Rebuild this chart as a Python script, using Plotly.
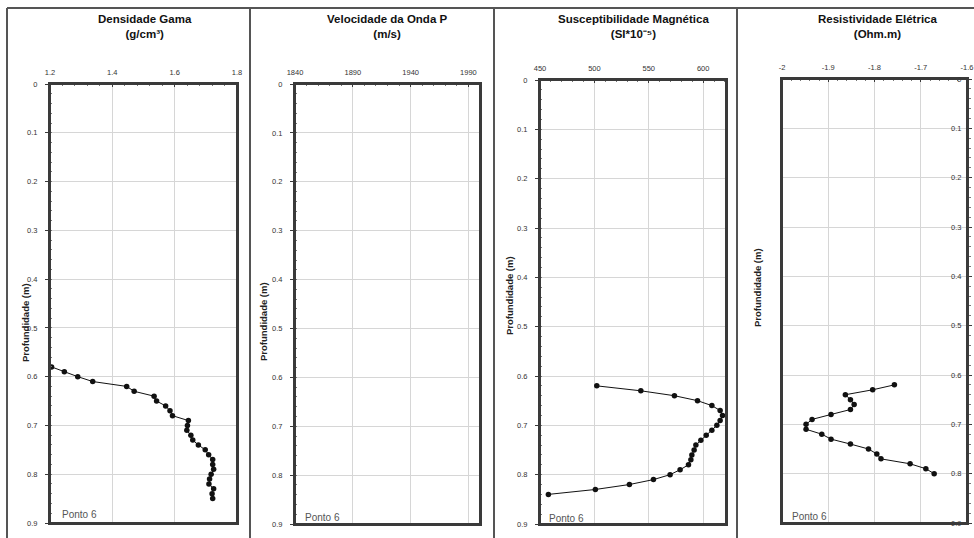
import plotly.graph_objects as go

W, H = 974, 538

# ---------------- data ----------------
dens_depth = [0.58, 0.59, 0.60, 0.61, 0.62, 0.63, 0.64, 0.65, 0.66, 0.67, 0.68, 0.69, 0.70, 0.71,
              0.72, 0.73, 0.74, 0.75, 0.76, 0.77, 0.78, 0.79, 0.80, 0.81, 0.82, 0.83, 0.84, 0.85]
dens_values = [1.205, 1.246, 1.289, 1.337, 1.446, 1.470, 1.534, 1.542, 1.571, 1.585, 1.593, 1.644,
               1.641, 1.639, 1.652, 1.658, 1.676, 1.698, 1.709, 1.722, 1.722, 1.725, 1.717, 1.712,
               1.710, 1.725, 1.720, 1.722]

vel_depth = []
vel_values = []

mag_depth = [0.62, 0.63, 0.64, 0.65, 0.66, 0.67, 0.68, 0.69, 0.70, 0.71, 0.72, 0.73, 0.74, 0.75,
             0.76, 0.77, 0.78, 0.79, 0.80, 0.81, 0.82, 0.83, 0.84]
mag_values = [502.2, 542.7, 573.6, 594.8, 608.0, 615.6, 617.8, 615.6, 612.6, 608.0, 602.8, 597.9,
              593.3, 591.7, 589.6, 588.7, 586.5, 578.8, 569.6, 554.3, 532.2, 500.9, 457.7]

res_depth = [0.62, 0.63, 0.64, 0.65, 0.66, 0.67, 0.68, 0.69, 0.70, 0.71, 0.72, 0.73, 0.74, 0.75,
             0.76, 0.77, 0.78, 0.79, 0.80]
res_values = [-1.757, -1.804, -1.863, -1.852, -1.844, -1.852, -1.894, -1.935, -1.948, -1.948,
              -1.914, -1.894, -1.852, -1.813, -1.795, -1.786, -1.723, -1.689, -1.671]

titles = ["<b>Densidade Gama</b><br><b>(g/cm³)</b>",
          "<b>Velocidade da Onda P</b><br><b>(m/s)</b>",
          "<b>Susceptibilidade Magnética</b><br><b>(SI*10⁻⁵)</b>",
          "<b>Resistividade Elétrica</b><br><b>(Ohm.m)</b>"]
y_title = "Profundidade (m)"
point_label = "Ponto 6"

dens_ticks = [1.2, 1.4, 1.6, 1.8]
vel_ticks = [1840, 1890, 1940, 1990]
mag_ticks = [450, 500, 550, 600]
res_ticks = [-2, -1.9, -1.8, -1.7, -1.6]
res_ticktext = ["-2", "-1.9", "-1.8", "-1.7", "-1.6"]
depth_ticks = [0, 0.1, 0.2, 0.3, 0.4, 0.5, 0.6, 0.7, 0.8, 0.9]

# ---------------- layout helpers (page pixel -> paper) ----------------
def px(p):
    return p / W

def py(p):
    return 1 - p / H

FONT = "Liberation Sans, Arial, sans-serif"
AXC = "#3a3a3a"
GRID = "#d6d6d6"

panels = [
    dict(x0=50, x1=237, y0=84, y1=523, xr=[1.2, 1.8], xt=dens_ticks, xtt=None, xminor=0.04,
         xd=dens_values, yd=dens_depth, ytx=25, yty=323, lbl=(79, 514), tt=(145, 27)),
    dict(x0=295, x1=480, y0=84, y1=524, xr=[1840, 2000], xt=vel_ticks, xtt=None, xminor=10,
         xd=vel_values, yd=vel_depth, ytx=263, yty=322, lbl=(322, 517), tt=(387, 27)),
    dict(x0=540, x1=726, y0=80, y1=524, xr=[450, 621], xt=mag_ticks, xtt=None, xminor=10,
         xd=mag_values, yd=mag_depth, ytx=509, yty=295, lbl=(566, 518), tt=(633, 27)),
    dict(x0=782, x1=967, y0=79, y1=523, xr=[-2, -1.6], xt=res_ticks, xtt=res_ticktext, xminor=0.02,
         xd=res_values, yd=res_depth, ytx=757, yty=288, lbl=(809, 516), tt=(877, 27)),
]

fig = go.Figure()
annotations = []
FR = "#555"
shapes = []
layout = dict(width=W, height=H, margin=dict(l=0, r=0, t=0, b=0, pad=0), autosize=False,
              paper_bgcolor="white", plot_bgcolor="white", showlegend=False,
              font=dict(family=FONT, color="#222"))

for i, p in enumerate(panels, start=1):
    sfx = "" if i == 1 else str(i)
    xa, ya = "x" + sfx, "y" + sfx
    fig.add_trace(go.Scatter(x=p["xd"], y=p["yd"], xaxis=xa, yaxis=ya, mode="lines+markers",
                             line=dict(color="#111", width=1),
                             marker=dict(color="#111", size=5.5, line=dict(color="#111", width=0)),
                             cliponaxis=False, hoverinfo="skip"))
    xaxis = dict(domain=[px(p["x0"]), px(p["x1"])], range=p["xr"], side="top", anchor=ya,
                 automargin=False, ticklabeloverflow="allow",
                 tickvals=p["xt"], showgrid=True, gridcolor=GRID, gridwidth=1, zeroline=False,
                 showline=True, mirror=True, linecolor=AXC, linewidth=2,
                 ticks="inside", ticklen=3, tickcolor=AXC, tickwidth=1,
                 minor=dict(dtick=p["xminor"], ticks="inside", ticklen=2, tickcolor="#777", showgrid=False),
                 tickfont=dict(size=7.5, color="#333"), ticklabelstandoff=4, fixedrange=True)
    if p["xtt"] is not None:
        xaxis["ticktext"] = p["xtt"]
    yaxis = dict(domain=[py(p["y1"]), py(p["y0"])], range=[0.9, 0], anchor=xa,
                 automargin=False, ticklabeloverflow="allow",
                 tickvals=depth_ticks, showgrid=True, gridcolor=GRID, gridwidth=1, zeroline=False,
                 showline=True, mirror=True, linecolor=AXC, linewidth=2,
                 ticks="outside", ticklen=3, tickcolor=AXC, tickwidth=1,
                 minor=dict(dtick=0.02, ticks="inside" if i < 4 else "outside", ticklen=2,
                            tickcolor="#777", showgrid=False),
                 tickfont=dict(size=7.5, color="#333"), fixedrange=True)
    if i == 4:
        yaxis.update(side="right", ticklabelposition="inside", ticks="outside", ticklabelstandoff=4)
    else:
        yaxis.update(ticklabelstandoff=6)
    layout["xaxis" + sfx] = xaxis
    layout["yaxis" + sfx] = yaxis

    # plot-area frame
    shapes.append(dict(type="rect", xref=xa + " domain", yref=ya + " domain", x0=0, x1=1, y0=0, y1=1,
                       line=dict(color=AXC, width=2), fillcolor="rgba(0,0,0,0)", layer="above"))

    annotations.append(dict(text=titles[i - 1], x=px(p["tt"][0]), y=py(p["tt"][1]), xref="paper",
                            yref="paper", showarrow=False, xanchor="center", yanchor="middle",
                            font=dict(size=11.5, color="#111", family=FONT)))
    annotations.append(dict(text="<b>" + y_title + "</b>", x=px(p["ytx"]), y=py(p["yty"]), xref="paper",
                            yref="paper", showarrow=False, textangle=-90, xanchor="center",
                            yanchor="middle", font=dict(size=9.5, color="#222", family=FONT)))
    annotations.append(dict(text=point_label, x=px(p["lbl"][0]), y=py(p["lbl"][1]), xref="paper",
                            yref="paper", showarrow=False, xanchor="center", yanchor="middle",
                            font=dict(size=10, color="#555", family=FONT)))

layout["annotations"] = annotations

shapes += [
    dict(type="line", xref="paper", yref="paper", x0=px(7), x1=1, y0=py(8), y1=py(8),
         line=dict(color=FR, width=2)),
    dict(type="line", xref="paper", yref="paper", x0=px(7), x1=px(7), y0=py(8), y1=0,
         line=dict(color=FR, width=2)),
]
for xd in [250, 494, 737]:
    shapes.append(dict(type="line", xref="paper", yref="paper", x0=px(xd), x1=px(xd), y0=py(8), y1=0,
                       line=dict(color=FR, width=2)))
layout["shapes"] = shapes

fig.update_layout(**layout)
fig.write_html("out.html", config={"displayModeBar": False, "staticPlot": True},
               post_script="document.body.style.margin='0';document.body.style.overflow='hidden';")
